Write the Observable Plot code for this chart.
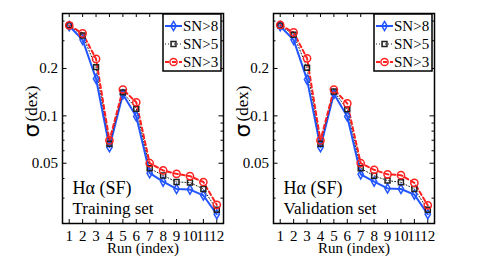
<!DOCTYPE html>
<html><head><meta charset="utf-8">
<script src="https://cdn.jsdelivr.net/npm/d3@7"></script>
<script src="https://cdn.jsdelivr.net/npm/@observablehq/plot@0.6"></script>
<style>
body{margin:0;background:#fff;}
#row{display:flex;width:480px;height:262px;}
.panel{position:relative;width:240px;height:262px;}
.legend{position:absolute;}
</style></head><body><div id="row"></div>
<script>
const runs = [1,2,3,4,5,6,7,8,9,10,11,12];
const seriesNames = ["SN>8","SN>5","SN>3"];
const trainSN8 = [0.372,0.304,0.172,0.0632,0.137,0.0991,0.0432,0.0382,0.0343,0.0340,0.0312,0.0237];
const trainSN5 = [0.376,0.324,0.204,0.0664,0.141,0.111,0.0464,0.0418,0.0380,0.0377,0.0343,0.0253];
const trainSN3 = [0.376,0.334,0.230,0.0698,0.147,0.122,0.0500,0.0450,0.0428,0.0414,0.0380,0.0272];
const valSN8 = [0.371,0.304,0.170,0.0632,0.138,0.0991,0.0425,0.0382,0.0346,0.0343,0.0316,0.0237];
const valSN5 = [0.375,0.328,0.202,0.0664,0.143,0.110,0.0464,0.0416,0.0388,0.0378,0.0343,0.0253];
const valSN3 = [0.378,0.339,0.232,0.0698,0.147,0.120,0.0500,0.0454,0.0425,0.0420,0.0375,0.0270];
const majorTicks = [0.05,0.1,0.2];
const minorTicks = [0.03,0.04,0.06,0.07,0.08,0.09,0.3,0.4];
const lineLabel = "Hα (SF)";
const setLabels = ["Training set","Validation set"];
const xLabel = "Run (index)";
const yLabelSymbol = "σ";
const yLabelUnit = "(dex)";

const SERIF = "'Liberation Serif','DejaVu Serif',serif";
const SANS = "'DejaVu Sans',sans-serif";
const styles = {
  "SN>8": {stroke:"#2255ff", width:2, dash:null, symbol:"diamond", r:2.8},
  "SN>5": {stroke:"#222", width:1, dash:"1,2", symbol:"square", r:2.8},
  "SN>3": {stroke:"#ff2020", width:2, dash:"4,3", symbol:"circle", r:3.6}
};

function makePanel(series, setName, mL, mR) {
  const W = 240, H = 262, mT = 13, mB = 39;
  const iw = W - mL - mR, ih = H - mT - mB;
  const rows = [];
  seriesNames.forEach((s,k) => runs.forEach((r,i) => rows.push({run:r, sigma:series[k][i], series:s})));
  const marks = [];
  marks.push(Plot.tickY(majorTicks, {y:d=>d, insetRight: iw-4.5, stroke:"black"}));
  marks.push(Plot.tickY(majorTicks, {y:d=>d, insetLeft: iw-4.5, stroke:"black"}));
  marks.push(Plot.tickY(minorTicks, {y:d=>d, insetRight: iw-2.5, stroke:"black"}));
  marks.push(Plot.tickY(minorTicks, {y:d=>d, insetLeft: iw-2.5, stroke:"black"}));
  marks.push(Plot.tickX(runs, {x:d=>d, insetTop: ih-4, stroke:"black"}));
  marks.push(Plot.tickX(runs, {x:d=>d, insetBottom: ih-4, stroke:"black"}));
  marks.push(Plot.axisY(majorTicks, {anchor:"left", tickSize:0, tickPadding:4.5, tickFormat:d=>String(d), fontSize:15, label:null}));
  marks.push(Plot.axisX(runs, {anchor:"bottom", tickSize:0, tickPadding:7, tickFormat:d=>String(d), fontSize:15, label:null}));
  seriesNames.forEach(s => {
    const st = styles[s];
    const d = rows.filter(r => r.series === s);
    marks.push(Plot.line(d, {x:"run", y:"sigma", stroke:st.stroke, strokeWidth:st.width, strokeDasharray:st.dash}));
  });
  seriesNames.forEach(s => {
    const st = styles[s];
    const d = rows.filter(r => r.series === s);
    marks.push(Plot.dot(d, {x:"run", y:"sigma", symbol:st.symbol, r:st.r, stroke:st.stroke, strokeWidth:1.5, fill:"none"}));
  });
  marks.push(Plot.frame({stroke:"black", strokeWidth:1.5}));
  marks.push(Plot.text([lineLabel], {text:d=>d, frameAnchor:"bottom-left", textAnchor:"start", lineAnchor:"middle", dx:10, dy:-35, fontSize:18}));
  marks.push(Plot.text([setName], {text:d=>d, frameAnchor:"bottom-left", textAnchor:"start", lineAnchor:"middle", dx:10, dy:-14.5, fontSize:17}));
  marks.push(Plot.text([xLabel], {text:d=>d, frameAnchor:"bottom", textAnchor:"middle", lineAnchor:"middle", dy:24.5, fontSize:15}));
  marks.push(Plot.text([yLabelSymbol], {text:d=>d, frameAnchor:"left", rotate:-90, textAnchor:"middle", lineAnchor:"middle", dx:-31, dy:12, fontSize:22, fontFamily:SANS}));
  marks.push(Plot.text([yLabelUnit], {text:d=>d, frameAnchor:"left", rotate:-90, textAnchor:"middle", lineAnchor:"middle", dx:-31, dy:-15, fontSize:17}));
  const chart = Plot.plot({
    width:W, height:H, marginLeft:mL, marginRight:mR, marginTop:mT, marginBottom:mB,
    x:{type:"linear", domain:[0.5,12.5]},
    y:{type:"log", domain:[0.0207,0.447]},
    style:{fontFamily:SERIF, fontSize:"15px", overflow:"visible", background:"transparent", color:"black"},
    marks
  });
  const div = document.createElement("div");
  div.className = "panel";
  div.appendChild(chart);
  const lg = document.createElement("div");
  lg.className = "legend";
  const lw = 58, lh = 57;
  lg.style.left = (W - mR - 60) + "px";
  lg.style.top = (mT + 0.5) + "px";
  const svg = d3.select(lg).append("svg").attr("width", lw).attr("height", lh).style("overflow","visible");
  svg.append("rect").attr("x",0).attr("y",0).attr("width",lw).attr("height",lh).attr("fill","white").attr("stroke","black").attr("stroke-width",1.5);
  seriesNames.forEach((s,i) => {
    const st = styles[s];
    const y = 12 + i*18;
    svg.append("line").attr("x1",2).attr("x2",19).attr("y1",y).attr("y2",y).attr("stroke",st.stroke).attr("stroke-width",st.width).attr("stroke-dasharray",st.dash);
    const sym = st.symbol === "diamond" ? d3.symbolDiamond : st.symbol === "square" ? d3.symbolSquare : d3.symbolCircle;
    svg.append("path").attr("d", d3.symbol(sym, st.r*st.r*Math.PI)()).attr("transform",`translate(10.5,${y})`).attr("fill","none").attr("stroke",st.stroke).attr("stroke-width",1.5);
    svg.append("text").attr("x",20).attr("y",y+5).attr("font-family",SERIF).attr("font-size",15).text(s);
  });
  div.appendChild(lg);
  return div;
}

const row = document.getElementById("row");
row.appendChild(makePanel([trainSN8,trainSN5,trainSN3], setLabels[0], 62, 17));
row.appendChild(makePanel([valSN8,valSN5,valSN3], setLabels[1], 33, 46));
</script></body></html>
